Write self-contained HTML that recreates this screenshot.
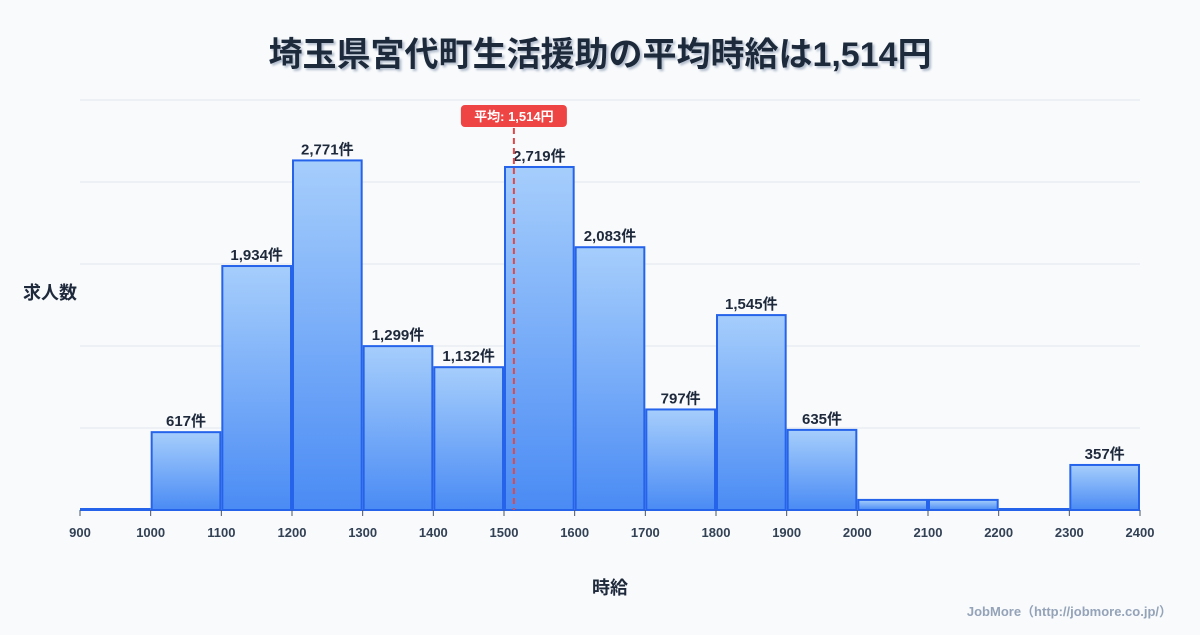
<!DOCTYPE html>
<html><head><meta charset="utf-8">
<style>
body{margin:0;background:#f8fafc;font-family:"Liberation Sans","Noto Sans CJK JP",sans-serif;}
svg text{font-family:"Liberation Sans","Noto Sans CJK JP",sans-serif;}
</style></head>
<body>
<svg width="1200" height="630" viewBox="0 0 1200 630" id="chart">
<defs>
<linearGradient id="g" x1="0" y1="0" x2="0" y2="1">
<stop offset="0" stop-color="#a6cefc"/><stop offset="1" stop-color="#4a8bf4"/>
</linearGradient>
<filter id="sh"><feDropShadow dx="2" dy="2" stdDeviation="1" flood-color="#94a3b8" flood-opacity="0.7"/></filter>
</defs>
<text x="600" y="66" text-anchor="middle" font-size="34" font-weight="bold" fill="#1e293b" filter="url(#sh)">埼玉県宮代町生活援助の平均時給は1,514円</text>
<g id="grid"></g>
<g id="bars"></g>
<g id="xaxis"></g>
<text x="50" y="299" text-anchor="middle" font-size="18" font-weight="bold" fill="#1e293b">求人数</text>
<text x="610" y="594" text-anchor="middle" font-size="18" font-weight="bold" fill="#1e293b">時給</text>
<text x="1172" y="616" text-anchor="end" font-size="13" font-weight="bold" fill="#94a3b8">JobMore（http://jobmore.co.jp/）</text>
</svg>
<script>
const binStarts=[900,1000,1100,1200,1300,1400,1500,1600,1700,1800,1900,2000,2100,2200,2300];
const counts=[0,617,1934,2771,1299,1132,2719,2083,797,1545,635,80,80,0,357];
const tickLabels=["900","1000","1100","1200","1300","1400","1500","1600","1700","1800","1900","2000","2100","2200","2300","2400"];
const meanValue=1514;
const meanLabel="平均: 1,514円";
const ns="http://www.w3.org/2000/svg";
const X0=80,X1=1140,XMIN=900,XMAX=2400,YB=510,YT=100,YMAX=3250;
const x=v=>X0+(v-XMIN)/(XMAX-XMIN)*(X1-X0);
const y=v=>YB-v/YMAX*(YB-YT);
function mk(t,a,p){const e=document.createElementNS(ns,t);for(const k in a)e.setAttribute(k,a[k]);p.appendChild(e);return e;}
const grid=document.getElementById('grid'),bars=document.getElementById('bars'),xa=document.getElementById('xaxis');
for(let i=0;i<=5;i++){const v=i*650;const l=mk('line',{x1:X0,x2:X1,y1:y(v),y2:y(v),stroke:'#e2e8f0','stroke-width':1},grid);

}
binStarts.forEach((b,i)=>{const x0=x(b)+1,x1=x(b+100)-1,yt=Math.min(y(counts[i]),YB-1);
const r=mk('rect',{x:x0,y:yt,width:x1-x0,height:YB-yt,fill:'url(#g)',stroke:'#2563eb','stroke-width':2},bars);


if(counts[i]>=100){const t=mk('text',{x:(x0+x1)/2,y:yt-6,'text-anchor':'middle','font-size':15,'font-weight':'bold',fill:'#1e293b'},bars);
t.textContent=counts[i].toLocaleString('en-US')+'件';

}});
tickLabels.forEach(s=>{const v=+s;const tk=mk('line',{x1:x(v),x2:x(v),y1:YB,y2:YB+6,stroke:'#475569','stroke-width':1},xa);


const t=mk('text',{x:x(v),y:YB+27,'text-anchor':'middle','font-size':13,'font-weight':'bold',fill:'#334155'},xa);
t.textContent=s;

});
const mx=x(meanValue);
const ml=mk('line',{x1:mx,x2:mx,y1:128,y2:YB,stroke:'#e04848','stroke-width':2,'stroke-dasharray':'6,4'},bars);


const mb=mk('rect',{x:mx-53,y:105,width:106,height:22,rx:4,fill:'#ef4444'},bars);


const mt=mk('text',{x:mx,y:121,'text-anchor':'middle','font-size':13,'font-weight':'bold',fill:'#fff'},bars);
mt.textContent=meanLabel;


</script>
</body></html>
